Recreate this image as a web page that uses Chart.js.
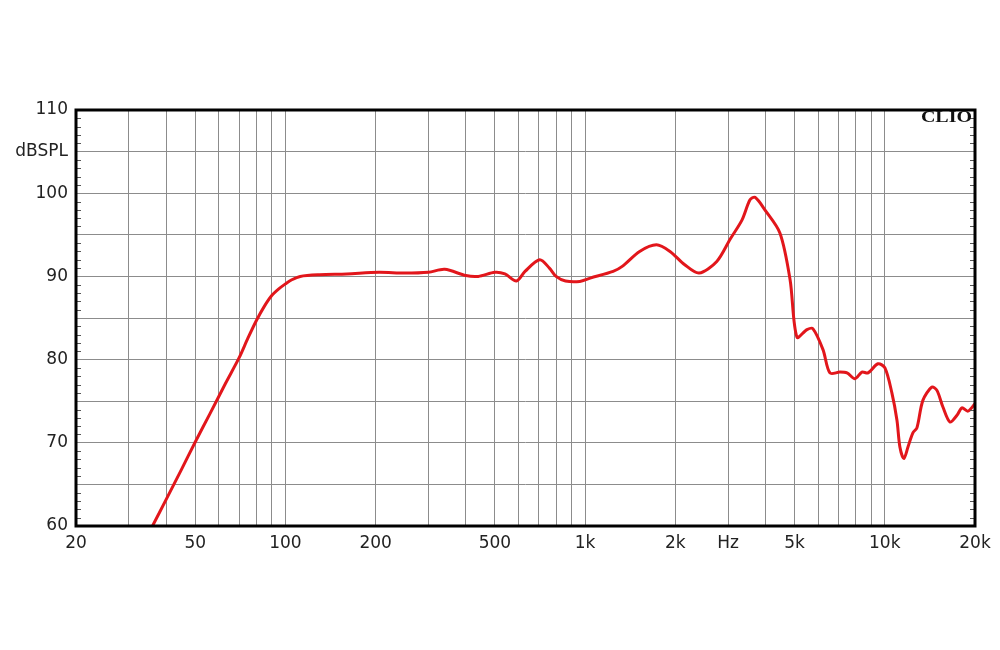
<!DOCTYPE html>
<html>
<head>
<meta charset="utf-8">
<title>CLIO frequency response</title>
<script src="https://cdn.jsdelivr.net/npm/chart.js@4.4.1/dist/chart.umd.min.js"></script>
<style>
  html, body { margin: 0; padding: 0; background: #ffffff; }
  #wrap { width: 1000px; height: 650px; }
</style>
</head>
<body>
<div id="wrap"><canvas id="responseChart" width="1000" height="650"></canvas></div>
<script>
const freqs = [36, 40, 45, 50, 56, 63, 70, 75, 80, 85, 90, 95, 100, 105, 112, 130, 160, 205, 250, 300, 340, 400, 440, 500,
    540, 590, 630, 705, 760, 800, 860, 960, 1040, 1240, 1330, 1520, 1730, 1920, 2150, 2400, 2750, 3050,
    3340, 3550, 3690, 3980, 4470, 4830, 5090, 5500, 5760, 6220, 6560, 7080, 7480, 7950, 8390, 8790,
    9490, 10010, 10560, 10980, 11230, 11580, 11950, 12410, 12800, 13400, 14360, 14930, 15630, 16500,
    17410, 18090, 18940, 20000];
const splValues = [60.0, 63.2, 66.8, 70.1, 73.5, 77.1, 80.2, 82.6, 84.7, 86.4, 87.7, 88.5, 89.1, 89.6, 90.0, 90.2, 90.3, 90.5, 90.4, 90.5, 90.85, 90.1, 90.0, 90.5,
    90.3, 89.45, 90.6, 92.0, 91.0, 90.0, 89.45, 89.4, 89.8, 90.6, 91.2, 93.0, 93.8, 93.0, 91.4, 90.4, 91.8, 94.5,
    96.8, 99.2, 99.5, 98.0, 95.2, 89.6, 82.7, 83.6, 83.7, 81.2, 78.4, 78.5, 78.4, 77.7, 78.5, 78.4,
    79.5, 79.0, 76.0, 72.7, 69.5, 68.1, 69.5, 71.2, 71.8, 75.1, 76.7, 76.3, 74.3, 72.5,
    73.3, 74.2, 73.8, 74.7];

// axis grid + labels
const gridFreqs = [20, 30, 40, 50, 60, 70, 80, 90, 100, 200, 300, 400, 500, 600, 700, 800, 900,
    1000, 2000, 3000, 4000, 5000, 6000, 7000, 8000, 9000, 10000, 20000];
const xLabelFreqs = [20, 50, 100, 200, 500, 1000, 2000, 3000, 5000, 10000, 20000];
const xLabelText = ['20', '50', '100', '200', '500', '1k', '2k', 'Hz', '5k', '10k', '20k'];
const gridLevels = [60, 65, 70, 75, 80, 85, 90, 95, 100, 105, 110];
const yLabelValues = [60, 70, 80, 90, 100, 105, 110];
const yLabelText = ['60', '70', '80', '90', '100', 'dBSPL', '110'];

const GRID_COLOR = '#8c8c8c';
const LABEL_FONT = { family: '"DejaVu Sans", Verdana, sans-serif', size: 17 };

// black frame, small 1 dB ticks on both sides, CLIO mark
const framePlugin = {
    id: 'frame',
    afterDraw(chart) {
        const { ctx, chartArea: a, scales } = chart;
        ctx.save();
        ctx.strokeStyle = '#555';
        ctx.lineWidth = 1;
        for (let v = 61; v < 110; v++) {
            if (v % 5 === 0) continue;
            const y = Math.round(scales.y.getPixelForValue(v)) + 0.5;
            ctx.beginPath();
            ctx.moveTo(a.left, y);
            ctx.lineTo(a.left + 5, y);
            ctx.moveTo(a.right - 5, y);
            ctx.lineTo(a.right, y);
            ctx.stroke();
        }
        ctx.strokeStyle = '#000';
        ctx.lineWidth = 3;
        ctx.strokeRect(a.left, a.top, a.right - a.left, a.bottom - a.top);

        // the logo is a bit wider than the plain font
        ctx.fillStyle = '#111';
        ctx.font = 'bold 16px "Liberation Serif", "DejaVu Serif", serif';
        ctx.textAlign = 'right';
        ctx.textBaseline = 'middle';
        ctx.translate(a.right - 3, a.top + 8);
        ctx.scale(1.25, 1);
        ctx.fillText('CLIO', 0, 0);
        ctx.restore();
    }
};

const ctx = document.getElementById('responseChart');
new Chart(ctx, {
    type: 'line',
    data: {
        datasets: [{
            data: freqs.map((f, i) => ({ x: f, y: splValues[i] })),
            borderColor: '#e2161b',
            borderWidth: 3,
            pointRadius: 0,
            fill: false,
            tension: 0.3
        }]
    },
    options: {
        responsive: false,
        animation: false,
        layout: { padding: { top: 110, right: 25, left: 0, bottom: 0 } },
        plugins: {
            legend: { display: false },
            tooltip: { enabled: false }
        },
        scales: {
            x: {
                type: 'logarithmic',
                min: 20,
                max: 20000,
                afterBuildTicks: scale => {
                    scale.ticks = gridFreqs.map(v => ({ value: v }));
                },
                afterFit: scale => { scale.height = 124; },
                grid: { color: GRID_COLOR, lineWidth: 1, drawTicks: false },
                border: { display: false },
                ticks: {
                    autoSkip: false,
                    maxRotation: 0,
                    padding: 7,
                    color: '#222',
                    font: LABEL_FONT,
                    callback: value => {
                        const i = xLabelFreqs.indexOf(value);
                        return i >= 0 ? xLabelText[i] : '';
                    }
                }
            },
            y: {
                min: 60,
                max: 110,
                afterBuildTicks: scale => {
                    scale.ticks = gridLevels.map(v => ({ value: v }));
                },
                afterFit: scale => { scale.width = 76; },
                grid: { color: GRID_COLOR, lineWidth: 1, drawTicks: false },
                border: { display: false },
                ticks: {
                    autoSkip: false,
                    padding: 8,
                    color: '#222',
                    font: LABEL_FONT,
                    callback: value => {
                        const i = yLabelValues.indexOf(value);
                        return i >= 0 ? yLabelText[i] : '';
                    }
                }
            }
        }
    },
    plugins: [framePlugin]
});
</script>
</body>
</html>
